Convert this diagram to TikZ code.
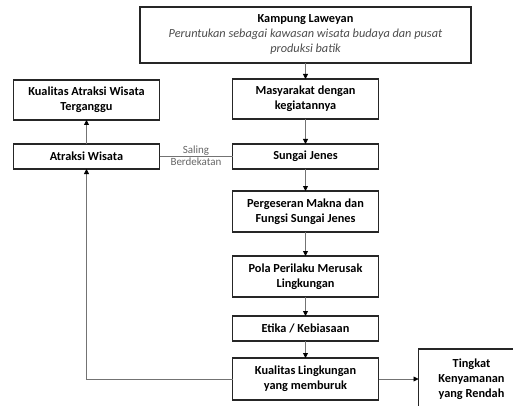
\documentclass[tikz,border=0pt]{standalone}
\usepackage{fontspec}
\setmainfont{Carlito}
\usetikzlibrary{arrows.meta,positioning}

\begin{document}
\begin{tikzpicture}[
      x=1pt, y=1pt,
      box/.style={draw=black!85, line width=1.2pt, align=center, minimum width=146pt,
                  inner sep=1pt, outer sep=0pt, font=\bfseries\fontsize{12.3}{15}\selectfont},
      note/.style={font=\fontsize{11}{11}\selectfont, text=black!60, inner sep=1pt},
      arr/.style={-{Triangle[length=5pt, width=5pt, color=black]}, draw=black!55, line width=0.8pt},
      link/.style={draw=black!55, line width=0.8pt}]
    \useasboundingbox (0,0) rectangle (513,-406);
    \node[box, minimum width=331pt, minimum height=56pt, font=\fontsize{12.3}{15}\selectfont]
      (kampung) at (305.5,-35)
      {\textbf{Kampung Laweyan}\\
       \textcolor{black!70}{\itshape Peruntukan sebagai kawasan wisata budaya dan pusat}\\
       \textcolor{black!70}{\itshape produksi batik}};
    \node[box, minimum height=40pt, below=16pt of kampung] (masyarakat) {Masyarakat dengan\\kegiatannya};
    \node[box, minimum height=25pt, below=25pt of masyarakat] (sungai) {Sungai Jenes};
    \node[box, minimum height=41pt, below=22pt of sungai] (pergeseran) {Pergeseran Makna dan\\Fungsi Sungai Jenes};
    \node[box, minimum height=41pt, below=24pt of pergeseran] (pola) {Pola Perilaku Merusak\\Lingkungan};
    \node[box, minimum height=25pt, below=19pt of pola] (etika) {Etika / Kebiasaan};
    \node[box, minimum height=42pt, below=17pt of etika] (kualling) {Kualitas Lingkungan\\yang memburuk};
    \node[box, minimum height=25pt, left=73pt of sungai] (atraksi) {Atraksi Wisata};
    \node[box, minimum height=40pt, above=24pt of atraksi] (kualatr) {Kualitas Atraksi Wisata\\Terganggu};
    \node[box, minimum width=106pt, minimum height=60pt, right=40pt of kualling] (tingkat) {Tingkat\\Kenyamanan\\yang Rendah};
    \draw[arr] (kampung) -- (masyarakat);
    \draw[arr] (masyarakat) -- (sungai);
    \draw[arr] (sungai) -- (pergeseran);
    \draw[arr] (pergeseran) -- (pola);
    \draw[arr] (pola) -- (etika);
    \draw[arr] (etika) -- (kualling);
    \draw[arr] (kualling) -- (tingkat);
    \draw[arr] (atraksi) -- (kualatr);
    \draw[arr] (kualling.west) -| (atraksi.south);
    \draw[link] (atraksi) -- node[note, above] (saling) {Saling} node[note, below] (dekat) {Berdekatan} (sungai);
  \end{tikzpicture}
\end{document}
